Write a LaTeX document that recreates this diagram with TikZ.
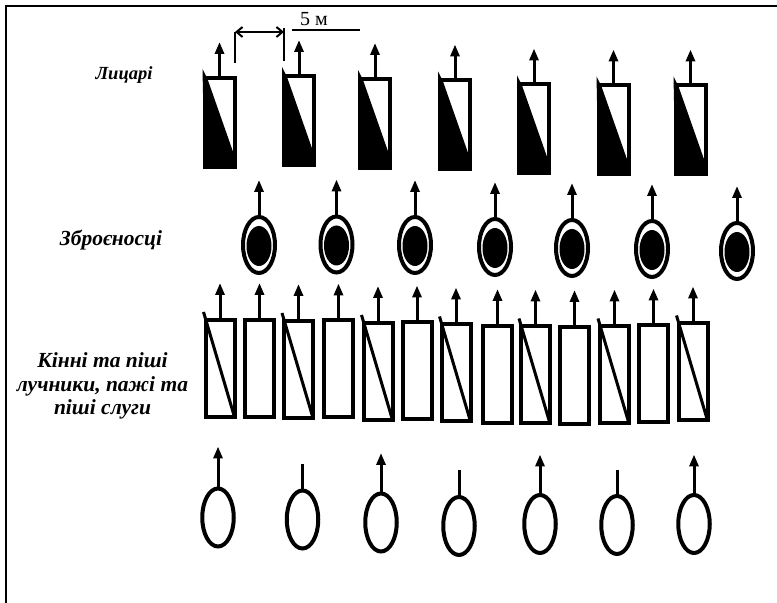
\documentclass[tikz,border=0pt]{standalone}
\usepackage{fontspec}
\setmainfont{Liberation Serif}
\usetikzlibrary{arrows.meta,shapes.geometric}

\begin{document}
\begin{tikzpicture}[>={Triangle[length=12bp,width=9bp]},line join=miter,
  knight/.style={draw,line width=4bp,inner sep=0pt,outer sep=0pt,minimum width=30bp,minimum height=89bp},
  squire/.style={ellipse,draw,line width=4bp,inner sep=0pt,outer sep=0pt,minimum width=32bp,minimum height=56bp},
  core/.style={ellipse,fill,inner sep=0pt,outer sep=0pt,minimum width=25bp,minimum height=40bp},
  archer/.style={draw,line width=4bp,inner sep=0pt,outer sep=0pt,minimum width=29bp,minimum height=97bp},
  servant/.style={ellipse,draw,line width=4bp,inner sep=0pt,outer sep=0pt,minimum width=31.5bp,minimum height=58bp},
  shaft/.style={line width=3bp,->},
  stub/.style={line width=3bp},
  slash/.style={line width=3bp},
  rank/.style={font=\fontsize{21.5bp}{23.5bp}\selectfont\bfseries\itshape,align=center,inner sep=0pt},
  ]
\useasboundingbox (0bp,0bp) rectangle (777bp,603bp);
\draw [line width=2bp] (6bp,0bp) -- (6bp,597bp) -- (777bp,597bp);
%% labels
\node (label_0) at (124bp,528bp) [rank,font=\fontsize{18.5bp}{20bp}\selectfont\bfseries\itshape] {Лицарі};
\node (label_1) at (111bp,363bp) [rank] {Зброєносці};
\node (label_2) at (102.5bp,217bp) [rank] {Кінні та піші\\лучники, пажі та\\піші слуги};
%% scale
\node (scale) at (314bp,584bp) [inner sep=0pt,font=\fontsize{20bp}{22bp}\selectfont] {5 м};
\coordinate (scale_l) at (292bp,573bp);
\coordinate (scale_r) at (360bp,573bp);
\draw [line width=1.5bp] (scale_l) -- (scale_r);
\coordinate (dim_0) at (235bp,571bp);
\coordinate (dim_1) at (284bp,571bp);
\coordinate (tick_0) at (235bp,540bp);
\coordinate (tick_1) at (284bp,542bp);
\coordinate (top_1) at (284bp,575bp);
\draw [line width=2bp,{Straight Barb[length=6bp,width=10bp]}-{Straight Barb[length=6bp,width=10bp]}] (dim_0) -- (dim_1);
\draw [line width=2bp] (dim_0) -- (tick_0);
\draw [line width=2bp] (top_1) -- (tick_1);
%% knights
\node (knight_0) at (219.5bp,480.5bp) [knight] {};
\node (knight_1) at (299bp,482.5bp) [knight] {};
\node (knight_2) at (375bp,479.5bp) [knight] {};
\node (knight_3) at (455bp,478bp) [knight] {};
\node (knight_4) at (534bp,474bp) [knight] {};
\node (knight_5) at (613.5bp,473bp) [knight] {};
\node (knight_6) at (690.5bp,473bp) [knight] {};
\fill ([shift={(-2bp,9bp)}]knight_0.north west) -- ([shift={(3bp,-1bp)}]knight_0.north west) -- ([yshift=11bp]knight_0.south east) -- (knight_0.south east) -- (knight_0.south west) -- cycle;
\fill ([shift={(-2bp,9bp)}]knight_1.north west) -- ([shift={(3bp,-1bp)}]knight_1.north west) -- ([yshift=11bp]knight_1.south east) -- (knight_1.south east) -- (knight_1.south west) -- cycle;
\fill ([shift={(-2bp,9bp)}]knight_2.north west) -- ([shift={(3bp,-1bp)}]knight_2.north west) -- ([yshift=11bp]knight_2.south east) -- (knight_2.south east) -- (knight_2.south west) -- cycle;
\fill ([shift={(-2bp,9bp)}]knight_3.north west) -- ([shift={(3bp,-1bp)}]knight_3.north west) -- ([yshift=11bp]knight_3.south east) -- (knight_3.south east) -- (knight_3.south west) -- cycle;
\fill ([shift={(-2bp,9bp)}]knight_4.north west) -- ([shift={(3bp,-1bp)}]knight_4.north west) -- ([yshift=11bp]knight_4.south east) -- (knight_4.south east) -- (knight_4.south west) -- cycle;
\fill ([shift={(-2bp,9bp)}]knight_5.north west) -- ([shift={(3bp,-1bp)}]knight_5.north west) -- ([yshift=11bp]knight_5.south east) -- (knight_5.south east) -- (knight_5.south west) -- cycle;
\fill ([shift={(-2bp,9bp)}]knight_6.north west) -- ([shift={(3bp,-1bp)}]knight_6.north west) -- ([yshift=11bp]knight_6.south east) -- (knight_6.south east) -- (knight_6.south west) -- cycle;
\draw [shaft] (knight_0.north) -- ++(0bp,36bp);
\draw [shaft] (knight_1.north) -- ++(0bp,36bp);
\draw [shaft] (knight_2.north) -- ++(0bp,36bp);
\draw [shaft] (knight_3.north) -- ++(0bp,36bp);
\draw [shaft] (knight_4.north) -- ++(0bp,36bp);
\draw [shaft] (knight_5.north) -- ++(0bp,36bp);
\draw [shaft] (knight_6.north) -- ++(0bp,36bp);
%% squires
\node (squire_0) at (259bp,358bp) [squire] {};
\node (squire_1) at (336.5bp,358.5bp) [squire] {};
\node (squire_2) at (415bp,358bp) [squire] {};
\node (squire_3) at (495bp,356bp) [squire] {};
\node (squire_4) at (572bp,355bp) [squire] {};
\node (squire_5) at (652bp,354bp) [squire] {};
\node (squire_6) at (737bp,352bp) [squire] {};
\node (core_0) at (259bp,357bp) [core] {};
\node (core_1) at (336.5bp,357.5bp) [core] {};
\node (core_2) at (415bp,357bp) [core] {};
\node (core_3) at (495bp,355bp) [core] {};
\node (core_4) at (572bp,354bp) [core] {};
\node (core_5) at (652bp,353bp) [core] {};
\node (core_6) at (737bp,351bp) [core] {};
\draw [shaft] (squire_0.north) -- ++(0bp,37bp);
\draw [shaft] (squire_1.north) -- ++(0bp,37bp);
\draw [shaft] (squire_2.north) -- ++(0bp,37bp);
\draw [shaft] (squire_3.north) -- ++(0bp,37bp);
\draw [shaft] (squire_4.north) -- ++(0bp,37bp);
\draw [shaft] (squire_5.north) -- ++(0bp,37bp);
\draw [shaft] (squire_6.north) -- ++(0bp,37bp);
%% archers
\node (archer_0) at (220bp,234.5bp) [archer] {};
\node (archer_1) at (259.5bp,234.5bp) [archer] {};
\node (archer_2) at (298.5bp,233.5bp) [archer] {};
\node (archer_3) at (338.5bp,234bp) [archer] {};
\node (archer_4) at (378bp,231.5bp) [archer] {};
\node (archer_5) at (417bp,232bp) [archer] {};
\node (archer_6) at (456bp,230bp) [archer] {};
\node (archer_7) at (497.5bp,228.5bp) [archer] {};
\node (archer_8) at (535.5bp,228bp) [archer] {};
\node (archer_9) at (574.5bp,227.5bp) [archer] {};
\node (archer_10) at (614.5bp,228bp) [archer] {};
\node (archer_11) at (653.5bp,229bp) [archer] {};
\node (archer_12) at (693bp,231bp) [archer] {};
\draw [slash] ([shift={(-2bp,8bp)}]archer_0.north west) -- (archer_0.south east);
\draw [slash] ([shift={(-2bp,8bp)}]archer_2.north west) -- (archer_2.south east);
\draw [slash] ([shift={(-2bp,8bp)}]archer_4.north west) -- (archer_4.south east);
\draw [slash] ([shift={(-2bp,8bp)}]archer_6.north west) -- (archer_6.south east);
\draw [slash] ([shift={(-2bp,8bp)}]archer_8.north west) -- (archer_8.south east);
\draw [slash] ([shift={(-2bp,8bp)}]archer_10.north west) -- (archer_10.south east);
\draw [slash] ([shift={(-2bp,8bp)}]archer_12.north west) -- (archer_12.south east);
\draw [shaft] (archer_0.north) -- ++(0bp,37bp);
\draw [shaft] (archer_1.north) -- ++(0bp,37bp);
\draw [shaft] (archer_2.north) -- ++(0bp,37bp);
\draw [shaft] (archer_3.north) -- ++(0bp,37bp);
\draw [shaft] (archer_4.north) -- ++(0bp,37bp);
\draw [shaft] (archer_5.north) -- ++(0bp,37bp);
\draw [shaft] (archer_6.north) -- ++(0bp,37bp);
\draw [shaft] (archer_7.north) -- ++(0bp,37bp);
\draw [shaft] (archer_8.north) -- ++(0bp,37bp);
\draw [shaft] (archer_9.north) -- ++(0bp,37bp);
\draw [shaft] (archer_10.north) -- ++(0bp,37bp);
\draw [shaft] (archer_11.north) -- ++(0bp,37bp);
\draw [shaft] (archer_12.north) -- ++(0bp,37bp);
%% servants
\node (servant_0) at (218bp,85.5bp) [servant] {};
\node (servant_1) at (302.5bp,83.5bp) [servant] {};
\node (servant_2) at (381bp,80.5bp) [servant] {};
\node (servant_3) at (459bp,77bp) [servant] {};
\node (servant_4) at (540bp,79bp) [servant] {};
\node (servant_5) at (617bp,78bp) [servant] {};
\node (servant_6) at (694bp,79bp) [servant] {};
\draw [shaft] (servant_0.north) -- ++(0bp,42bp);
\draw [stub] (servant_1.north) -- ++(0bp,26.5bp);
\draw [shaft] (servant_2.north) -- ++(0bp,40.5bp);
\draw [stub] (servant_3.north) -- ++(0bp,26.5bp);
\draw [shaft] (servant_4.north) -- ++(0bp,40.5bp);
\draw [stub] (servant_5.north) -- ++(0bp,25.5bp);
\draw [shaft] (servant_6.north) -- ++(0bp,40.5bp);
%
\end{tikzpicture}
\end{document}
